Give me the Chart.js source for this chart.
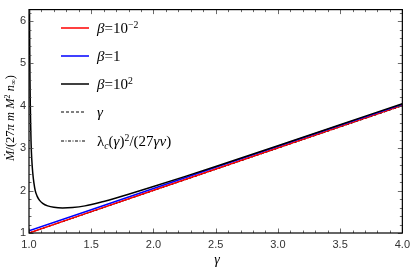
<!DOCTYPE html>
<html>
<head>
<meta charset="utf-8">
<script src="https://cdn.jsdelivr.net/npm/chart.js@4"></script>
<style>
body { margin: 0; background: #fff; }
#wrap { position: relative; width: 415px; height: 272px; }
.serif { font-family: "Liberation Serif", "DejaVu Serif", serif; color: #000; }
.row { position: absolute; left: 61px; height: 20px; width: 220px; white-space: nowrap; }
.row svg { position: absolute; left: 0; top: 0; }
.row span { position: absolute; left: 36px; top: 0; line-height: 20px; font-size: 15px; }
sup, sub { font-size: 0.65em; position: relative; vertical-align: baseline; }
sup { top: -0.5em; }
sub { top: 0.3em; }
#ytitle { position: absolute; left: 10px; top: 118px; transform: translate(-50%, -50%) rotate(-90deg); font-size: 12.5px; white-space: nowrap; }
#xtitle { position: absolute; left: 217px; top: 260px; transform: translate(-50%, -50%); font-size: 14px; }
</style>
</head>
<body>
<div id="wrap">
  <canvas id="chart" width="415" height="272"></canvas>

  <div class="row serif" style="top:18px">
    <svg width="30" height="20"><line x1="0" y1="10" x2="28" y2="10" stroke="#ff0000" stroke-width="1.5"/></svg>
    <span><i>β</i>=10<sup>−2</sup></span>
  </div>
  <div class="row serif" style="top:46px">
    <svg width="30" height="20"><line x1="0" y1="10" x2="28" y2="10" stroke="#0000ff" stroke-width="1.5"/></svg>
    <span><i>β</i>=1</span>
  </div>
  <div class="row serif" style="top:74px">
    <svg width="30" height="20"><line x1="0" y1="10" x2="28" y2="10" stroke="#000" stroke-width="1.5"/></svg>
    <span><i>β</i>=10<sup>2</sup></span>
  </div>
  <div class="row serif" style="top:102px">
    <svg width="30" height="20"><line x1="0" y1="10" x2="25" y2="10" stroke="#000" stroke-width="1" stroke-dasharray="3,2"/></svg>
    <span><i>γ</i></span>
  </div>
  <div class="row serif" style="top:131px">
    <svg width="30" height="20"><line x1="0" y1="10" x2="25" y2="10" stroke="#000" stroke-width="1" stroke-dasharray="3,1.5,1,1.5"/></svg>
    <span>λ<sub><i>c</i></sub>(<i>γ</i>)<sup>2</sup>/(27<i>γv</i>)</span>
  </div>

  <div id="ytitle" class="serif"><i>Ṁ</i>/(27<i>π m M</i><sup>2</sup> <i>n</i><sub>∞</sub>)</div>
  <div id="xtitle" class="serif"><i>γ</i></div>
</div>

<script>
// values
const gammaGrid = [1.0, 1.5, 2.0, 2.5, 3.0, 3.5, 4.0];
const betaSmall = [1.0, 1.505, 2.01, 2.51, 3.01, 3.51, 4.01];    // beta = 1e-2
const betaOne = [1.05, 1.55, 2.05, 2.55, 3.045, 3.54, 4.035];    // beta = 1
const gammaLine = [1.0, 1.5, 2.0, 2.5, 3.0, 3.5, 4.0];           // y = gamma
const lambdaLine = [1.0, 1.5, 2.005, 2.505, 3.005, 3.505, 4.005]; // lambda_c^2/(27 gamma v)

const gammaBig = [1.004, 1.006, 1.008, 1.01, 1.013, 1.017, 1.022, 1.03, 1.04, 1.05, 1.065,
                  1.085, 1.11, 1.15, 1.2, 1.27, 1.35, 1.45, 1.6, 1.7, 1.8, 2.0, 2.25, 2.5, 3.0, 3.5, 4.0];
const betaBig = [6.3, 5.3, 4.6, 4.1, 3.6, 3.1, 2.75, 2.42, 2.17, 2.0, 1.87,
                 1.77, 1.7, 1.64, 1.605, 1.59, 1.6, 1.64, 1.745, 1.825, 1.912, 2.095, 2.33, 2.57, 3.06, 3.555, 4.05];

const xTicks = [1.0, 1.5, 2.0, 2.5, 3.0, 3.5, 4.0];
const yTicks = [1, 2, 3, 4, 5, 6];

const pts = (xs, ys) => xs.map((x, i) => ({ x: x, y: ys[i] }));

// frame with inward ticks on all four sides
const framePlugin = {
    id: "frame",
    afterDatasetsDraw(chart) {
        const ctx = chart.ctx;
        const { left, right, top, bottom } = chart.chartArea;
        const xs = chart.scales.x, ys = chart.scales.y;
        ctx.save();
        ctx.strokeStyle = "#444";
        ctx.lineWidth = 0.8;
        ctx.beginPath();
        for (let k = 0; k <= 30; k++) {
            const px = Math.round(xs.getPixelForValue(1 + k * 0.1)) + 0.5;
            const len = k % 5 === 0 ? 4.5 : 2.5;
            ctx.moveTo(px, bottom); ctx.lineTo(px, bottom - len);
            ctx.moveTo(px, top); ctx.lineTo(px, top + len);
        }
        for (let k = 0; 1 + k * 0.2 <= ys.max; k++) {
            const py = Math.round(ys.getPixelForValue(1 + k * 0.2)) + 0.5;
            const len = k % 5 === 0 ? 4.5 : 2.5;
            ctx.moveTo(left, py); ctx.lineTo(left + len, py);
            ctx.moveTo(right, py); ctx.lineTo(right - len, py);
        }
        ctx.stroke();
        ctx.strokeStyle = "#000";
        ctx.lineWidth = 1.2;
        ctx.strokeRect(left, top, right - left, bottom - top);
        ctx.restore();
    }
};

const tickFont = { family: "'Liberation Sans', Arial, sans-serif", size: 11 };

new Chart(document.getElementById("chart").getContext("2d"), {
    type: "line",
    data: {
        datasets: [
            { label: "beta=10^2", data: pts(gammaBig, betaBig), borderColor: "#000", borderWidth: 1.5,
              cubicInterpolationMode: "monotone", order: 0 },
            { label: "beta=1", data: pts(gammaGrid, betaOne), borderColor: "#0000ff", borderWidth: 1.5, order: 1 },
            { label: "beta=10^-2", data: pts(gammaGrid, betaSmall), borderColor: "#ff0000", borderWidth: 1.5, order: 2 },
            { label: "lambda", data: pts(gammaGrid, lambdaLine), borderColor: "#000", borderWidth: 1,
              borderDash: [3, 1.5, 1, 1.5], order: 3 },
            { label: "gamma", data: pts(gammaGrid, gammaLine), borderColor: "#000", borderWidth: 1,
              borderDash: [3, 2], order: 4 },
        ],
    },
    options: {
        responsive: false,
        devicePixelRatio: 1,
        animation: false,
        parsing: false,
        layout: { padding: { left: 0, top: 1, right: 8, bottom: 0 } },
        elements: { point: { radius: 0 }, line: { fill: false } },
        plugins: { legend: { display: false }, tooltip: { enabled: false } },
        scales: {
            x: {
                type: "linear",
                min: 1,
                max: 4,
                grid: { display: false, drawTicks: false },
                border: { display: false },
                afterBuildTicks: (s) => { s.ticks = xTicks.map((v) => ({ value: v })); },
                afterFit: (s) => { s.height = 39; },
                ticks: {
                    font: tickFont,
                    color: "#333",
                    padding: 5,
                    maxRotation: 0,
                    callback: (v) => Number(v).toFixed(1),
                },
            },
            y: {
                type: "linear",
                min: 1,
                max: 6.27,
                grid: { display: false, drawTicks: false },
                border: { display: false },
                afterBuildTicks: (s) => { s.ticks = yTicks.map((v) => ({ value: v })); },
                afterFit: (s) => { s.width = 29; },
                ticks: { font: tickFont, color: "#333", padding: 3 },
            },
        },
    },
    plugins: [framePlugin],
});
</script>
</body>
</html>
